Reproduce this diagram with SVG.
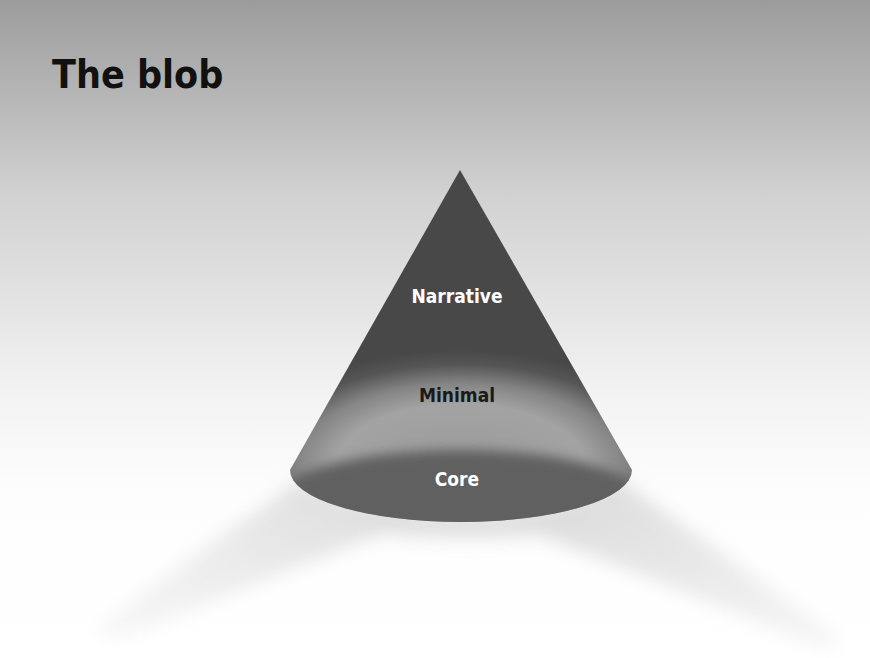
<svg xmlns="http://www.w3.org/2000/svg" width="870" height="658" viewBox="0 0 870 658">
<defs>
<linearGradient id="bg" x1="0" y1="0" x2="0" y2="1">
<stop offset="0" stop-color="#9c9c9c"/>
<stop offset="0.3" stop-color="#d2d2d2"/>
<stop offset="0.6" stop-color="#f3f3f3"/>
<stop offset="0.75" stop-color="#fdfdfd"/>
<stop offset="1" stop-color="#ffffff"/>
</linearGradient>
<radialGradient id="glow" gradientUnits="userSpaceOnUse" cx="460" cy="470" r="1" gradientTransform="translate(460 470) scale(230 120) translate(-460 -470)">
<stop offset="0" stop-color="#9a9a9a"/>
<stop offset="0.55" stop-color="#a3a3a3"/>
<stop offset="0.72" stop-color="#858585"/>
<stop offset="0.88" stop-color="#555555"/>
<stop offset="1" stop-color="#484848"/>
</radialGradient>
<linearGradient id="shL" x1="1" y1="0" x2="0" y2="1">
<stop offset="0" stop-color="#cdcdcd"/>
<stop offset="1" stop-color="#f6f6f6"/>
</linearGradient>
<linearGradient id="shR" x1="0" y1="0" x2="1" y2="1">
<stop offset="0" stop-color="#c9c9c9"/>
<stop offset="1" stop-color="#f4f4f4"/>
</linearGradient>
<clipPath id="coneClip">
<path d="M460,170 L290,470 A171,52 0 0 0 632,470 Z"/>
</clipPath>
<filter id="blur" x="-20%" y="-20%" width="140%" height="140%">
<feGaussianBlur stdDeviation="9"/>
</filter>
<filter id="soft" x="-20%" y="-50%" width="140%" height="200%">
<feGaussianBlur stdDeviation="6"/>
</filter>
<style>
.lbl{font-family:"DejaVu Sans Condensed","DejaVu Sans",sans-serif;font-size:19px;font-weight:bold;text-anchor:middle;}
</style>
</defs>
<rect id="background" x="0" y="0" width="870" height="658" fill="url(#bg)"/>
<g id="shadows" filter="url(#blur)" opacity="0.7">
<polygon points="300,480 430,514 115,640 95,628" fill="url(#shL)"/>
<polygon points="620,480 495,517 828,650 842,640" fill="url(#shR)"/>
<ellipse cx="470" cy="525" rx="120" ry="12" fill="#d0d0d0"/>
</g>
<g id="title">
<text x="52" y="88" font-family="DejaVu Sans Condensed, DejaVu Sans, sans-serif" font-weight="bold" font-size="39" fill="#111111">The blob</text>
</g>
<g id="cone">
<path d="M460,170 L290,470 A171,52 0 0 0 632,470 Z" fill="url(#glow)"/>
<g clip-path="url(#coneClip)">
<ellipse cx="460" cy="500" rx="185" ry="50" fill="#616161" filter="url(#soft)"/>
</g>
</g>
<g id="connectors"/>
<g id="narrative">
<text class="lbl" x="457" y="303" fill="#ffffff">Narrative</text>
</g>
<g id="minimal">
<text class="lbl" x="457" y="402" fill="#1a1a1a">Minimal</text>
</g>
<g id="core">
<text class="lbl" x="457" y="486" fill="#ffffff">Core</text>
</g>
</svg>
